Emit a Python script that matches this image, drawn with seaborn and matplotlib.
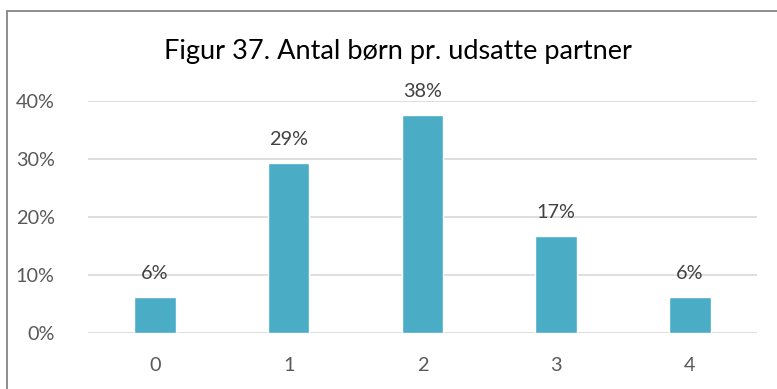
import matplotlib
matplotlib.use("Agg")
import matplotlib.pyplot as plt
import seaborn as sns
import pandas as pd
from matplotlib.lines import Line2D

# Data: share of partners by number of children
children = ["0", "1", "2", "3", "4"]
shares = [0.062, 0.293, 0.376, 0.167, 0.062]
y_ticks = [0.0, 0.1, 0.2, 0.3, 0.4]

df = pd.DataFrame({"children": children, "share": shares})

sns.set_theme(style="white")
plt.rcParams["font.family"] = ["Lato", "DejaVu Sans"]

W, H = 777, 389
fig = plt.figure(figsize=(W / 100, H / 100), dpi=100)
ax = fig.add_axes([88 / W, (H - 333.3) / H, (756.7 - 88) / W, (333.3 - 101) / H])

sns.barplot(data=df, x="children", y="share", color="#4BACC6", width=0.31,
            saturation=1, ax=ax, zorder=3)

ax.set_ylim(0, 0.4)
ax.set_xlim(-0.5, 4.5)
ax.set_yticks(y_ticks)
ax.set_yticklabels([f"{t*100:.0f}%" for t in y_ticks])
ax.yaxis.grid(True, color="#D9D9D9", linewidth=1.2, zorder=0)
ax.set_axisbelow(True)
for s in ax.spines.values():
    s.set_visible(False)
ax.set_xlabel("")
ax.set_ylabel("")
ax.tick_params(axis="y", length=0, pad=24, labelsize=14.3, labelcolor="#595959")
ax.tick_params(axis="x", length=0, pad=17, labelsize=14.3, labelcolor="#595959")

# Value labels above each bar
for i, v in enumerate(shares):
    ax.annotate(f"{v*100:.0f}%", (i, v), xytext=(0, 11), textcoords="offset points",
                ha="center", va="bottom", fontsize=14.3, color="#404040")

fig.text(398 / W, 1 - 52 / H, "Figur 37. Antal børn pr. udsatte partner",
         ha="center", va="center", fontsize=19.5, color="#000000")

# Chart frame (left and top edges)
fig.add_artist(Line2D([7 / W, 7 / W], [0, 1 - 11 / H], transform=fig.transFigure,
                      color="#868686", linewidth=1.3))
fig.add_artist(Line2D([7 / W, 1], [1 - 11 / H, 1 - 11 / H], transform=fig.transFigure,
                      color="#868686", linewidth=1.3))

fig.savefig("out.png", dpi=100)
